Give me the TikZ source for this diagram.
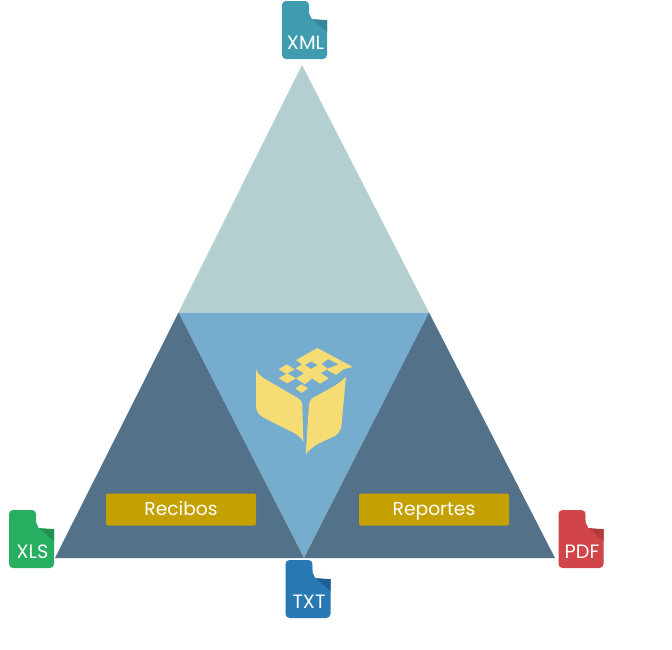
\documentclass[tikz,border=0pt]{standalone}
\usepackage{fontspec}
\setsansfont{Poppins}
\definecolor{topgray}{HTML}{B3CFD0}
\definecolor{midblue}{HTML}{76ADCE}
\definecolor{sideblue}{HTML}{54718A}
\definecolor{gold}{HTML}{C4A000}
\definecolor{logoyellow}{HTML}{F5DC75}
\definecolor{xmlteal}{HTML}{3E9BB0}
\definecolor{xmldark}{HTML}{35869A}
\definecolor{xlsgreen}{HTML}{27AE60}
\definecolor{xlsdark}{HTML}{219150}
\definecolor{txtblue}{HTML}{2878B4}
\definecolor{txtdark}{HTML}{1F5F94}
\definecolor{pdfred}{HTML}{D14548}
\definecolor{pdfdark}{HTML}{B23A3D}
\tikzset{
  label box/.style={fill=gold,rounded corners=1pt,text=white,font=\sffamily\fontsize{14}{14}\selectfont,
    minimum width=112.5pt,minimum height=24pt,inner sep=0pt,text height=9.5pt,text depth=0pt},
  pics/fileicon/.style n args={3}{code={
    \fill[#1,rounded corners=3pt] (0,0) -- (27,0) -- (27,12) [sharp corners] -- (30,18) -- (45,19) [rounded corners=3pt] -- (45,58) -- (0,58) -- cycle;
    \fill[#2] (30,18) -- (45,19) -- (45,31) -- cycle;
    \fill[black!6] (27,0) -- (45,19) -- (30,18) -- (27,12) -- cycle;
    \fill[white] (27.5,0) -- (44.5,18.5) -- (30,17.5) -- (27.5,12) -- cycle;
    \node[text=white,font=\sffamily\fontsize{14.5}{14.5}\selectfont,inner sep=0pt,anchor=base] (-name) at (23.5,48) {#3};
  }}
}
\begin{document}
\begin{tikzpicture}[x=.75pt,y=-.75pt]
  \useasboundingbox (0,0) rectangle (672,650);
  % triangle corners
  \coordinate (apex) at (302,65);
  \coordinate (midl) at (178.5,312.5);
  \coordinate (midr) at (429,312.5);
  \coordinate (botl) at (55,558);
  \coordinate (botm) at (304,558);
  \coordinate (botr) at (555,558);
  \fill[topgray] (apex) -- (midr) -- (midl) -- cycle;
  \fill[midblue] (midl) -- (midr) -- (botm) -- cycle;
  \fill[sideblue] (midl) -- (botm) -- (botl) -- cycle;
  \fill[sideblue] (midr) -- (botr) -- (botm) -- cycle;
  % logo
  \begin{scope}[shift={(240,335)},x=.25pt,y=-.25pt,fill=logoyellow]
    \fill (48,102) .. controls (52,115) and (60,122) .. (72,130) -- (170,187)
      .. controls (183,195) and (187,200) .. (187,212) -- (190,320)
      .. controls (178,300) and (165,295) .. (140,283) -- (75,250)
      .. controls (55,240) and (48,230) .. (48,210) -- cycle;
    \fill (318,125) .. controls (305,140) and (290,150) .. (225,185)
      .. controls (210,192) and (207,200) .. (207,210) -- (197,358)
      .. controls (215,335) and (235,325) .. (270,310)
      .. controls (295,300) and (303,290) .. (305,265) -- cycle;
    \fill (116,103) -- (140,88) -- (164,103) -- (140,117) -- cycle;
    \fill (116,130) -- (142,115) -- (168,130) -- (142,145) -- cycle;
    \fill (166,160) -- (185,148) -- (204,160) -- (185,174) -- cycle;
    \fill[even odd rule] (168,75) -- (232,39) -- (339,96) -- (312,102) -- (288,120) -- (258,103)
      -- (296,88) -- (264,72) -- (244,88) -- (266,102) -- (242,114) -- (266,130) -- (240,146)
      -- (216,130) -- (195,148) -- (168,130) -- (192,115) -- (166,100) -- (186,88) -- cycle
      (195,90) -- (213,79) -- (233,90) -- (213,102) -- cycle;
  \end{scope}
  % boxes
  \node[label box] (recibos) at (181,509.5) {Recibos};
  \node[label box] (reportes) at (434,509.5) {Reportes};
  % file icons
  \pic (xml) at (282,1) {fileicon={xmlteal}{xmldark}{XML}};
  \pic (xls) at (9,510) {fileicon={xlsgreen}{xlsdark}{XLS}};
  \pic (txt) at (285.5,560) {fileicon={txtblue}{txtdark}{TXT}};
  \pic (pdf) at (558.5,510) {fileicon={pdfred}{pdfdark}{PDF}};
\end{tikzpicture}
\end{document}
